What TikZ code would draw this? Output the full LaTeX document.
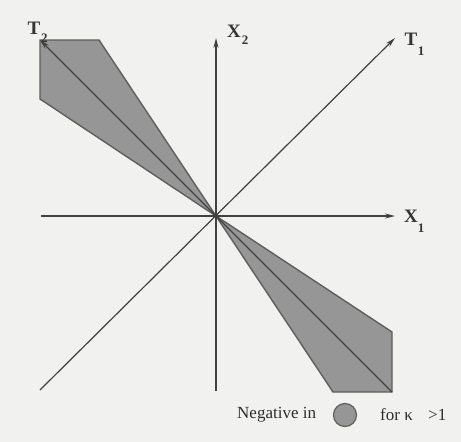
\documentclass[tikz,border=0pt]{standalone}
\usepackage{fontspec}
\setmainfont{Liberation Serif}
\usetikzlibrary{arrows.meta}
\definecolor{paper}{RGB}{241,241,239}
\definecolor{ink}{RGB}{65,65,65}
\definecolor{shade}{RGB}{150,150,150}
\begin{document}
\begin{tikzpicture}[x=1pt,y=-1pt,
  axis/.style={draw=ink,line width=1.2pt},
  tip/.style={-{Stealth[length=10pt,width=5pt]}},
  region/.style={fill=shade,draw=ink!85,line width=1.4pt,line join=miter},
  lbl/.style={font=\bfseries\fontsize{19}{19}\selectfont,inner sep=0pt,text=ink!80!black},
  subl/.style={font=\bfseries\fontsize{13}{13}\selectfont,inner sep=0pt,text=ink!80!black},
  legtext/.style={font=\fontsize{17}{17}\selectfont,inner sep=0pt,text=ink!70!black}]
\path[fill=paper] (0,0) rectangle (461,442);
\coordinate (O) at (216,216);
\coordinate (ul) at (40,40);
\coordinate (ulr) at (99,40);
\coordinate (ulb) at (40,99);
\coordinate (lr) at (392,392);
\coordinate (lrt) at (392,332);
\coordinate (lrl) at (333,392);
\coordinate (x1s) at (41,216);
\coordinate (x1e) at (395,216);
\coordinate (x2s) at (216,391);
\coordinate (x2e) at (216,38);
\coordinate (t1s) at (40,390);
\coordinate (t1e) at (395,38);
% shaded regions
\filldraw[region] (O) -- (ulb) -- (ul) -- (ulr) -- cycle;
\filldraw[region] (O) -- (lrl) -- (lr) -- (lrt) -- cycle;
% T2 axis
\draw[axis] (O) -- (lr);
\draw[axis,tip] (O) -- (ul);
% axes
\draw[axis,tip] (x1s) -- (x1e);
\draw[axis,tip] (x2s) -- (x2e);
\draw[axis,tip] (t1s) -- (t1e);
% labels
\node[lbl] (T2) at (34,28) {T};
\node[subl] (T2s) at (44.5,38) {2};
\node[lbl] (X2) at (234,31) {X};
\node[subl] (X2s) at (245,40) {2};
\node[lbl] (T1) at (411,39) {T};
\node[subl] (T1s) at (421,51) {1};
\node[lbl] (X1) at (411,216) {X};
\node[subl] (X1s) at (421,228) {1};
% legend
\node[legtext,anchor=west] (neg) at (237,415) {Negative in};
\node[circle,fill=shade,draw=ink!85,line width=1.2pt,minimum size=23pt,inner sep=0pt] (leg) at (345,415) {};
\node[legtext,anchor=west] (for) at (380,415) {for κ};
\node[legtext,anchor=west] (gt) at (428,415) {>1};
\end{tikzpicture}
\end{document}
